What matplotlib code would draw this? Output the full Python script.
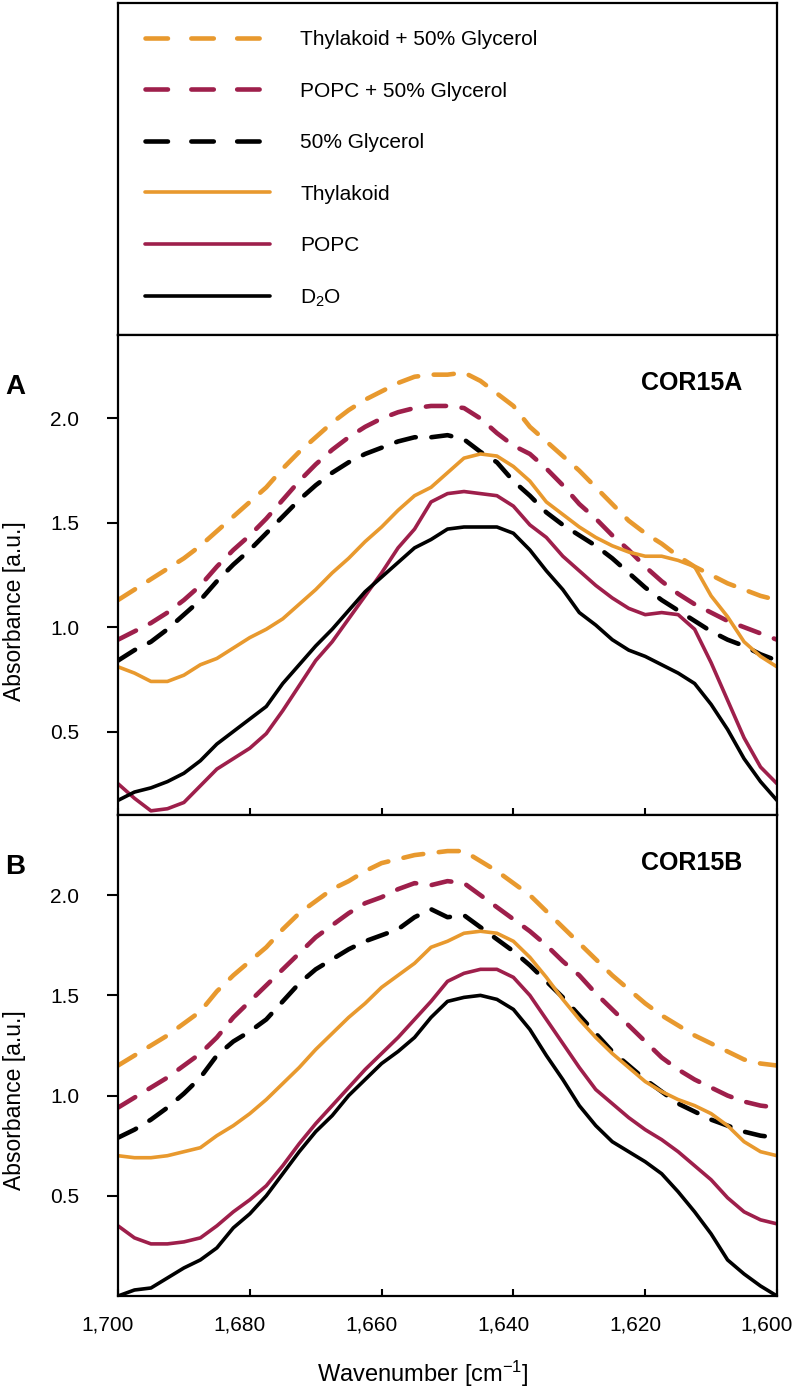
import matplotlib
matplotlib.use("Agg")
import matplotlib.pyplot as plt
from matplotlib.lines import Line2D
from matplotlib.transforms import ScaledTranslation
import numpy as np

plt.rcParams['font.family'] = ['Liberation Sans', 'DejaVu Sans']
plt.rcParams['mathtext.default'] = 'regular'

# wavenumber grid (cm-1), 1700 -> 1600 in 2.5 steps
wavenumber = [1700 - 2.5 * i for i in range(41)]

labels = ["Thylakoid + 50% Glycerol", "POPC + 50% Glycerol", "50% Glycerol",
          "Thylakoid", "POPC", "D$_2$O"]
colors = ["#E8992E", "#9E1F4B", "#000000", "#E8992E", "#9E1F4B", "#000000"]
dashed = [True, True, True, False, False, False]

# ---- panel A: COR15A ----
a_thyl_gly = [1.13, 1.18, 1.23, 1.28, 1.33, 1.39, 1.46, 1.53, 1.60, 1.67, 1.76, 1.84, 1.91, 1.98,
              2.04, 2.09, 2.13, 2.17, 2.20, 2.21, 2.21, 2.22, 2.18, 2.12, 2.06, 1.96, 1.89, 1.82,
              1.75, 1.67, 1.59, 1.51, 1.45, 1.40, 1.34, 1.29, 1.25, 1.21, 1.18, 1.15, 1.13]
a_popc_gly = [0.94, 0.98, 1.02, 1.07, 1.13, 1.20, 1.29, 1.37, 1.44, 1.52, 1.61, 1.70, 1.78, 1.85,
              1.91, 1.96, 2.00, 2.03, 2.05, 2.06, 2.06, 2.05, 2.00, 1.93, 1.87, 1.83, 1.76, 1.68,
              1.59, 1.52, 1.44, 1.37, 1.29, 1.22, 1.16, 1.11, 1.07, 1.03, 1.00, 0.97, 0.94]
a_gly = [0.84, 0.89, 0.93, 0.99, 1.06, 1.13, 1.22, 1.30, 1.37, 1.45, 1.53, 1.61, 1.68, 1.74,
         1.79, 1.83, 1.86, 1.89, 1.91, 1.91, 1.92, 1.90, 1.84, 1.79, 1.70, 1.63, 1.55, 1.49,
         1.44, 1.39, 1.33, 1.26, 1.19, 1.13, 1.08, 1.03, 0.98, 0.94, 0.91, 0.87, 0.84]
a_thyl = [0.81, 0.78, 0.74, 0.74, 0.77, 0.82, 0.85, 0.90, 0.95, 0.99, 1.04, 1.11, 1.18, 1.26,
          1.33, 1.41, 1.48, 1.56, 1.63, 1.67, 1.74, 1.81, 1.83, 1.82, 1.77, 1.70, 1.60, 1.54,
          1.48, 1.43, 1.39, 1.36, 1.34, 1.34, 1.32, 1.29, 1.15, 1.05, 0.93, 0.86, 0.81]
a_popc = [0.25, 0.18, 0.12, 0.13, 0.16, 0.24, 0.32, 0.37, 0.42, 0.49, 0.60, 0.72, 0.84, 0.93,
          1.04, 1.15, 1.26, 1.38, 1.47, 1.60, 1.64, 1.65, 1.64, 1.63, 1.58, 1.49, 1.43, 1.34,
          1.27, 1.20, 1.14, 1.09, 1.06, 1.07, 1.06, 0.99, 0.83, 0.65, 0.47, 0.33, 0.25]
a_d2o = [0.17, 0.21, 0.23, 0.26, 0.30, 0.36, 0.44, 0.50, 0.56, 0.62, 0.73, 0.82, 0.91, 0.99,
         1.08, 1.17, 1.24, 1.31, 1.38, 1.42, 1.47, 1.48, 1.48, 1.48, 1.45, 1.37, 1.27, 1.18,
         1.07, 1.01, 0.94, 0.89, 0.86, 0.82, 0.78, 0.73, 0.63, 0.51, 0.37, 0.26, 0.17]

# ---- panel B: COR15B ----
b_thyl_gly = [1.15, 1.20, 1.25, 1.30, 1.36, 1.42, 1.52, 1.60, 1.67, 1.74, 1.83, 1.91, 1.97, 2.03,
              2.07, 2.12, 2.16, 2.18, 2.20, 2.21, 2.22, 2.22, 2.17, 2.12, 2.06, 2.00, 1.92, 1.84,
              1.76, 1.68, 1.60, 1.53, 1.46, 1.40, 1.35, 1.30, 1.26, 1.22, 1.18, 1.16, 1.15]
b_popc_gly = [0.94, 0.99, 1.04, 1.09, 1.15, 1.21, 1.29, 1.39, 1.47, 1.55, 1.63, 1.71, 1.79, 1.85,
              1.91, 1.96, 1.99, 2.03, 2.06, 2.05, 2.07, 2.06, 2.00, 1.94, 1.88, 1.82, 1.75, 1.67,
              1.60, 1.51, 1.43, 1.35, 1.27, 1.19, 1.13, 1.08, 1.04, 1.00, 0.97, 0.95, 0.94]
b_gly = [0.79, 0.83, 0.88, 0.94, 1.01, 1.09, 1.20, 1.27, 1.32, 1.38, 1.47, 1.56, 1.63, 1.68,
         1.73, 1.77, 1.80, 1.83, 1.89, 1.93, 1.89, 1.90, 1.84, 1.78, 1.72, 1.65, 1.57, 1.49,
         1.40, 1.31, 1.22, 1.15, 1.08, 1.02, 0.96, 0.92, 0.88, 0.85, 0.82, 0.80, 0.79]
b_thyl = [0.70, 0.69, 0.69, 0.70, 0.72, 0.74, 0.80, 0.85, 0.91, 0.98, 1.06, 1.14, 1.23, 1.31,
          1.39, 1.46, 1.54, 1.60, 1.66, 1.74, 1.77, 1.81, 1.82, 1.81, 1.77, 1.69, 1.59, 1.48,
          1.38, 1.29, 1.21, 1.14, 1.07, 1.02, 0.98, 0.95, 0.91, 0.85, 0.77, 0.72, 0.70]
b_popc = [0.35, 0.29, 0.26, 0.26, 0.27, 0.29, 0.35, 0.42, 0.48, 0.55, 0.65, 0.76, 0.86, 0.95,
          1.04, 1.13, 1.21, 1.29, 1.38, 1.47, 1.57, 1.61, 1.63, 1.63, 1.59, 1.50, 1.38, 1.26,
          1.14, 1.03, 0.96, 0.89, 0.83, 0.78, 0.72, 0.65, 0.58, 0.49, 0.42, 0.38, 0.36]
b_d2o = [0.00, 0.03, 0.04, 0.09, 0.14, 0.18, 0.24, 0.34, 0.41, 0.50, 0.61, 0.72, 0.82, 0.90,
         1.00, 1.08, 1.16, 1.22, 1.29, 1.39, 1.47, 1.49, 1.50, 1.48, 1.43, 1.33, 1.20, 1.08,
         0.95, 0.85, 0.77, 0.72, 0.67, 0.61, 0.52, 0.42, 0.31, 0.18, 0.11, 0.05, 0.00]

panel_a = [a_thyl_gly, a_popc_gly, a_gly, a_thyl, a_popc, a_d2o]
panel_b = [b_thyl_gly, b_popc_gly, b_gly, b_thyl, b_popc, b_d2o]
xtick_vals = [1700, 1680, 1660, 1640, 1620, 1600]
xtick_text = ['1,700', '1,680', '1,660', '1,640', '1,620', '1,600']

W, H = 793, 1388
fig = plt.figure(figsize=(W / 100, H / 100), dpi=100)
left, right = 118 / W, 777 / W


def frac(top_px, bot_px):
    return [left, 1 - bot_px / H, right - left, (bot_px - top_px) / H]


ax_leg = fig.add_axes(frac(3, 335))
ax_a = fig.add_axes(frac(335, 815))
ax_b = fig.add_axes(frac(815, 1296))

for ax in (ax_leg, ax_a, ax_b):
    for s in ax.spines.values():
        s.set_linewidth(1.6)

ax_leg.set_xticks([])
ax_leg.set_yticks([])


def style(i):
    if dashed[i]:
        return dict(color=colors[i], lw=3.3, dashes=(4.4, 3.4), dash_capstyle='round')
    return dict(color=colors[i], lw=2.6, solid_capstyle='round', solid_joinstyle='round')


handles = []
for i in range(6):
    kw = style(i)
    if dashed[i]:
        kw['dashes'] = (4.9, 5.1)
    handles.append(Line2D([], [], **kw))
ax_leg.legend(handles, labels, loc='upper left', frameon=False, fontsize=15,
              handlelength=6.0, handletextpad=1.45, labelspacing=1.56,
              borderaxespad=0.8, borderpad=0.5)

shift = ScaledTranslation(-10 / 100, 0, fig.dpi_scale_trans)

for ax, data, ylim, letter, name, ly in [(ax_a, panel_a, (0.1, 2.4), 'A', 'COR15A', 0.425),
                                         (ax_b, panel_b, (0.0, 2.4), 'B', 'COR15B', 0.407)]:
    for i in range(6):
        ax.plot(wavenumber, data[i], **style(i))
    ax.set_xlim(1700, 1600)
    ax.set_ylim(*ylim)
    ax.set_yticks([0.5, 1.0, 1.5, 2.0])
    ax.set_xticks(xtick_vals)
    ax.tick_params(axis='y', direction='out', length=8, width=1.5, pad=20, labelsize=15)
    ax.tick_params(axis='x', direction='in', length=5, width=1.5, pad=14, labelsize=15)
    ax.set_ylabel('Absorbance [a.u.]', fontsize=16.5)
    ax.yaxis.set_label_coords(-0.14, ly)
    ax.text(-0.156, 0.892, letter, transform=ax.transAxes, fontsize=20,
            fontweight='bold', ha='center', va='center')
    ax.text(0.948, 0.9, name, transform=ax.transAxes, fontsize=18,
            fontweight='bold', ha='right', va='center')

ax_a.tick_params(axis='x', labelbottom=False)
ax_b.set_xticklabels(xtick_text)
for lab in ax_b.get_xticklabels():
    lab.set_transform(lab.get_transform() + shift)
ax_b.set_xlabel('Wavenumber [cm$^{-1}$]', fontsize=17)
ax_b.xaxis.set_label_coords(0.463, -0.13)

fig.savefig('out.png', dpi=100)
